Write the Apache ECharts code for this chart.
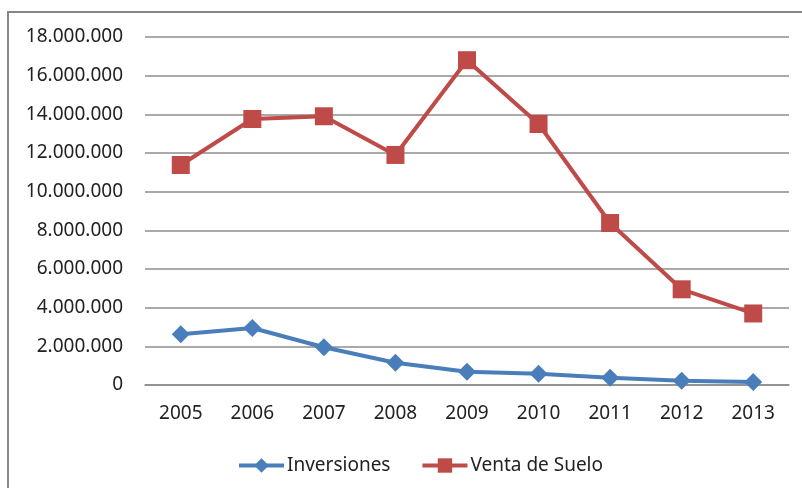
<!DOCTYPE html>
<html><head><meta charset="utf-8">
<script src="https://cdn.jsdelivr.net/npm/echarts@6/dist/echarts.min.js"></script>
<style>html,body{margin:0;padding:0;background:#fff}#c{width:802px;height:488px}</style>
</head><body><div id="c"></div>
<script>
const years = ['2005','2006','2007','2008','2009','2010','2011','2012','2013'];
const inversiones = [2620000, 2950000, 1950000, 1150000, 680000, 580000, 380000, 220000, 150000];
const ventaSuelo = [11380000, 13760000, 13900000, 11900000, 16800000, 13500000, 8380000, 4950000, 3700000];
const seriesNames = ['Inversiones', 'Venta de Suelo'];

const fmt = v => String(Math.round(v)).replace(/\B(?=(\d{3})+(?!\d))/g, '.');
const chart = echarts.init(document.getElementById('c'), null, {renderer:'canvas'});
const font = 'Noto Sans';
chart.setOption({
  animation:false,
  graphic:[{type:'rect', shape:{x:8,y:12,width:900,height:600}, style:{fill:'none', stroke:'#878787', lineWidth:2}, silent:true}],
  grid:{left:145, right:13, top:37, bottom:103},
  legend:{
    data: seriesNames, left:232, top:451, itemWidth:45, itemHeight:18, itemGap:30,
    lineStyle:{width:4},
    textStyle:{fontFamily:font, fontSize:19, color:'#222', padding:[0,0,0,-2]}
  },
  xAxis:{type:'category', data:years, boundaryGap:true,
    axisLine:{show:true, lineStyle:{color:'#8c8c8c', width:1.5}}, axisTick:{show:false},
    axisLabel:{fontFamily:font, fontSize:19, color:'#222', margin:19}},
  yAxis:{type:'value', min:0, max:18000000, interval:2000000,
    axisLine:{show:false}, axisTick:{show:false},
    splitLine:{lineStyle:{color:'#8c8c8c', width:1.5}},
    axisLabel:{fontFamily:font, fontSize:19, color:'#222', margin:22, formatter:fmt}},
  series:[
    {name:seriesNames[0], type:'line', data:inversiones, symbol:'diamond', symbolSize:18,
      itemStyle:{color:'#4A7EBB'}, lineStyle:{color:'#4A7EBB', width:4}},
    {name:seriesNames[1], type:'line', data:ventaSuelo, symbol:'rect', symbolSize:18,
      itemStyle:{color:'#BE4B48'}, lineStyle:{color:'#BE4B48', width:4}}
  ]
});
</script></body></html>
